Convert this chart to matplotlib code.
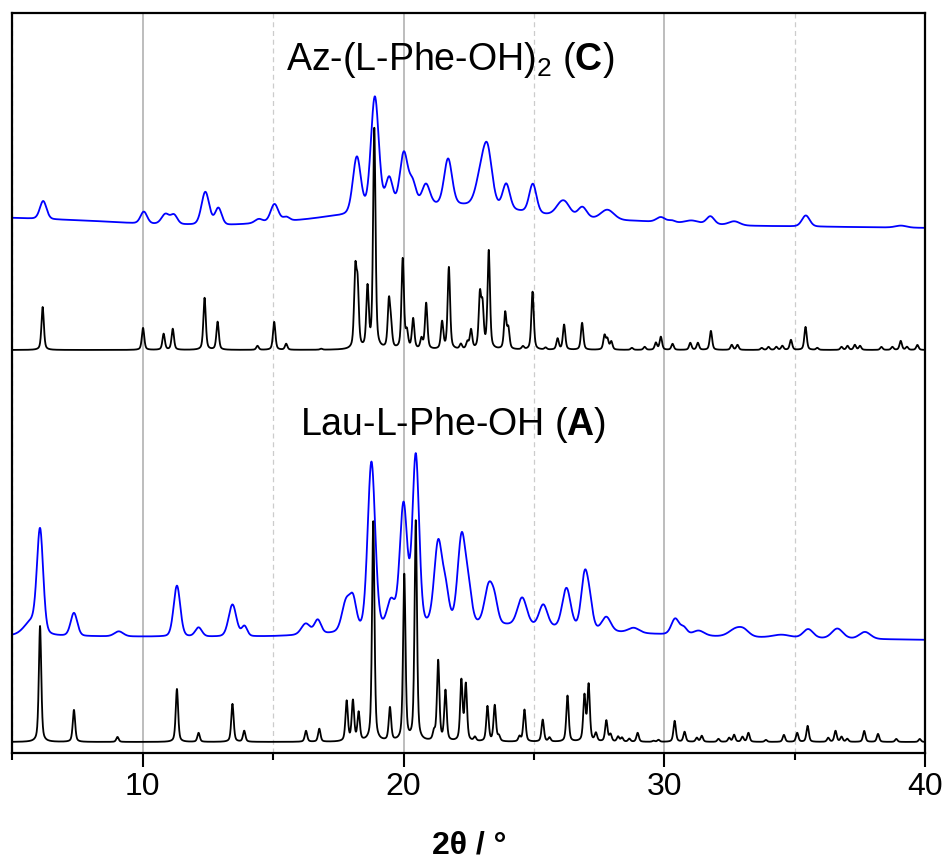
import matplotlib
matplotlib.use('Agg')
import matplotlib.pyplot as plt
import numpy as np

plt.rcParams['mathtext.fontset'] = 'custom'
plt.rcParams['mathtext.rm'] = 'Liberation Sans'
plt.rcParams['mathtext.bf'] = 'Liberation Sans:bold'

# ---- Az-(L-Phe-OH)2 (C): calculated pattern (black) ----
calcC_pos = [6.16, 10.01, 10.80, 11.15, 12.37, 12.87, 14.40, 15.04, 15.50, 16.84,
             18.15, 18.24, 18.62, 18.88, 19.44, 19.52, 19.97, 20.13, 20.37, 20.69,
             20.87, 21.48, 21.74, 22.20, 22.45, 22.59, 22.93, 23.03, 23.27, 23.90,
             24.02, 24.58, 24.95, 25.45, 25.91, 26.16, 26.85, 27.71, 27.82, 27.97,
             28.76, 29.25, 29.68, 29.87, 30.32, 31.00, 31.29, 31.79, 32.59, 32.81,
             33.74, 34.00, 34.30, 34.53, 34.86, 35.42, 35.87, 36.80, 37.03, 37.31,
             37.51, 38.33, 38.75, 39.07, 39.31, 39.71]
calcC_int = [43, 22, 16, 21, 52, 28, 4, 28, 6, 1,
             74, 58, 60, 220, 46, 20, 90, 16, 30, 10,
             46, 27, 82, 5, 7, 19, 52, 40, 98, 36,
             20, 3, 58, 2, 11, 25, 27, 14, 10, 8,
             2, 3, 7, 13, 6, 7, 7, 19, 5, 5,
             2, 3, 3, 4, 10, 23, 2, 3, 4, 5,
             4, 3, 3, 9, 3, 5]

# ---- Az-(L-Phe-OH)2 (C): measured pattern (blue) ----
expC_pos = [6.18, 10.04, 10.87, 11.20, 12.40, 12.90, 14.45, 15.05, 15.50,
            21.8, 18.21, 18.90, 19.45, 20.01, 20.35, 20.86, 21.71, 22.95, 23.22,
            23.94, 24.96, 26.00, 26.20, 26.86, 27.82, 29.87, 30.29, 31.05, 31.77,
            32.69, 35.43, 39.08]
expC_int = [18, 12, 10, 9, 33, 17, 4, 18, 4,
            16, 56, 114, 30, 54, 22, 21, 46, 26, 54,
            25, 29, 7, 11, 11, 10, 5, 2, 3, 8,
            4, 11, 2]
expC_fwhm = [0.30, 0.30, 0.35, 0.30, 0.35, 0.30, 0.35, 0.35, 0.30,
             6.5, 0.36, 0.36, 0.32, 0.36, 0.32, 0.36, 0.36, 0.45, 0.42,
             0.33, 0.33, 0.50, 0.50, 0.40, 0.60, 0.40, 0.30, 0.60, 0.35,
             0.50, 0.35, 0.50]
expC_bg_x = [5, 8, 10, 13, 15.5, 17, 29, 33, 40]
expC_bg_y = [535, 532, 529, 527, 530, 532, 531, 527, 525]

# ---- Lau-L-Phe-OH (A): calculated pattern (black) ----
calcA_pos = [6.06, 7.36, 9.03, 11.31, 12.14, 13.44, 13.89, 16.26, 16.77, 17.82,
             18.06, 18.28, 18.84, 19.48, 20.03, 20.47, 21.17, 21.33, 21.61, 22.22,
             22.39, 22.74, 23.22, 23.50, 23.66, 24.45, 24.64, 25.34, 25.60, 26.29,
             26.94, 27.10, 27.38, 27.78, 27.94, 28.23, 28.38, 28.66, 28.98, 29.59,
             29.78, 30.40, 30.78, 31.25, 31.44, 32.08, 32.49, 32.68, 33.00, 33.23,
             33.90, 34.59, 35.10, 35.50, 36.29, 36.57, 36.80, 37.02, 37.67, 38.20,
             38.90, 39.80]
calcA_int = [116, 32, 5, 53, 9, 38, 11, 11, 13, 40,
             40, 28, 220, 33, 166, 220, 8, 80, 50, 60,
             56, 4, 35, 36, 5, 5, 32, 22, 4, 46,
             45, 56, 8, 21, 7, 5, 4, 3, 9, 1,
             2, 21, 10, 4, 6, 3, 4, 7, 5, 9,
             2, 7, 9, 16, 4, 11, 5, 3, 11, 8,
             3, 3]

# ---- Lau-L-Phe-OH (A): measured pattern (blue) ----
expA_pos = [5.75, 6.06, 7.36, 9.08, 11.31, 12.14, 13.44, 13.90, 16.25, 16.71,
            23.0, 17.80, 18.07, 18.77, 19.52, 20.00, 20.47, 21.33, 21.62, 22.23,
            22.50, 23.27, 23.50, 24.55, 25.36, 26.25, 26.95, 27.15, 27.78, 28.83,
            30.42, 30.75, 31.32, 32.72, 33.05, 34.50, 35.52, 36.64, 37.70]
expA_int = [14, 100, 23, 5, 51, 9, 32, 10, 11, 14,
            12, 30, 28, 168, 26, 122, 170, 82, 30, 88,
            28, 38, 18, 28, 22, 40, 54, 20, 14, 5,
            16, 7, 5, 7, 6, 3, 9, 10, 7]
expA_fwhm = [0.70, 0.28, 0.30, 0.40, 0.30, 0.30, 0.35, 0.25, 0.40, 0.30,
             9.0, 0.38, 0.30, 0.34, 0.36, 0.34, 0.30, 0.36, 0.30, 0.36,
             0.30, 0.38, 0.30, 0.42, 0.38, 0.38, 0.32, 0.28, 0.40, 0.50,
             0.35, 0.30, 0.50, 0.60, 0.50, 0.80, 0.45, 0.50, 0.50]
expA_bg_x = [5, 15, 30, 40]
expA_bg_y = [117, 115, 116, 113]

calc_offset_C = 403
calc_offset_A = 11
calc_fwhm = 0.11


def pseudo_voigt(x, pos, amp, fwhm, eta):
    y = np.zeros_like(x)
    for p, a, w in zip(pos, amp, fwhm):
        g = np.exp(-4 * np.log(2) * ((x - p) / w) ** 2)
        l = 1.0 / (1.0 + 4 * ((x - p) / w) ** 2)
        y += a * (eta * l + (1 - eta) * g)
    return y


tt = np.linspace(5, 40, 3501)

calcC = calc_offset_C + pseudo_voigt(tt, calcC_pos, calcC_int, [calc_fwhm] * len(calcC_pos), 0.5)
expC = np.interp(tt, expC_bg_x, expC_bg_y) + pseudo_voigt(tt, expC_pos, expC_int, expC_fwhm, 0.2)
calcA = calc_offset_A + pseudo_voigt(tt, calcA_pos, calcA_int, [calc_fwhm] * len(calcA_pos), 0.5)
expA = np.interp(tt, expA_bg_x, expA_bg_y) + pseudo_voigt(tt, expA_pos, expA_int, expA_fwhm, 0.2)

fig = plt.figure(figsize=(9.48, 8.66), dpi=100)
ax = fig.add_axes([0.0131, 0.1305, 0.9626, 0.8545])

ax.plot(tt, expC, color='#0000ff', lw=1.3)
ax.plot(tt, calcC, color='black', lw=1.3)
ax.plot(tt, expA, color='#0000ff', lw=1.3)
ax.plot(tt, calcA, color='black', lw=1.3)

ax.set_xlim(5, 40)
ax.set_ylim(0, 740)
ax.set_yticks([])
ax.set_xticks([10, 20, 30, 40])
ax.set_xticks([5, 15, 25, 35], minor=True)
ax.grid(True, which='major', axis='x', color='#b8b8b8', lw=1.3, ls='-')
ax.grid(True, which='minor', axis='x', color='#cccccc', lw=0.9, ls=(0, (4, 3)))
ax.set_axisbelow(True)
for s in ax.spines.values():
    s.set_linewidth(1.6)

tick_font = 'Liberation Sans'
ax.tick_params(axis='x', which='major', direction='out', length=10, width=1.5, pad=4)
ax.tick_params(axis='x', which='minor', direction='out', length=5, width=1.5)
for lbl in ax.get_xticklabels():
    lbl.set_family(tick_font)
    lbl.set_fontsize(23)

ax.set_xlabel('2θ / °', family=tick_font, fontsize=23, fontweight='bold', labelpad=20)

ax.text(21.8, 683, r'Az-(L-Phe-OH)$_2$ ($\mathbf{C}$)', family='Liberation Sans',
        fontsize=27, ha='center', va='baseline')
ax.text(21.9, 318, r'Lau-L-Phe-OH ($\mathbf{A}$)', family='Liberation Sans',
        fontsize=27, ha='center', va='baseline')

plt.savefig('out.png', dpi=100)
